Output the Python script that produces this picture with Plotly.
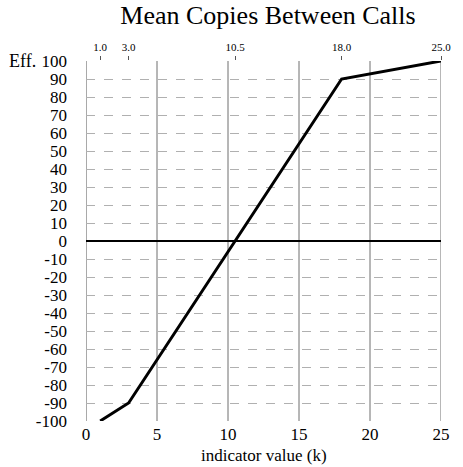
import plotly.graph_objects as go

# Data
indicator_k = [1.0, 3.0, 10.5, 18.0, 25.0]
efficiency = [-100, -90, 0, 90, 100]
top_tick_vals = [1.0, 3.0, 10.5, 18.0, 25.0]
top_tick_text = ["1.0", "3.0", "10.5", "18.0", "25.0"]
x_tick_vals = [0, 5, 10, 15, 20, 25]
y_tick_vals = list(range(-100, 101, 10))

FONT = "Liberation Serif"
W, H = 463, 467
L, R, T, B = 86, 13, 61, 46
plot_w = W - L - R
plot_h = H - T - B

fig = go.Figure()
fig.add_trace(go.Scatter(
    x=indicator_k, y=efficiency, mode="lines",
    line=dict(color="black", width=3), cliponaxis=False,
    hoverinfo="skip", showlegend=False))
# invisible trace to anchor top axis
fig.add_trace(go.Scatter(
    x=indicator_k, y=efficiency, xaxis="x2", mode="lines",
    line=dict(color="rgba(0,0,0,0)"), showlegend=False, hoverinfo="skip"))

# vertical grid lines (solid)
for xv in x_tick_vals[1:]:
    fig.add_shape(type="line", xref="x", yref="y", x0=xv, x1=xv, y0=-100, y1=100,
                  line=dict(color="#6e6e6e", width=1), layer="below")
# left axis line
fig.add_shape(type="line", xref="x", yref="y", x0=0, x1=0, y0=-100, y1=100,
              line=dict(color="#555555", width=1), layer="below")

fig.update_layout(
    width=W, height=H,
    margin=dict(l=L, r=R, t=T, b=B),
    paper_bgcolor="white", plot_bgcolor="white",
    font=dict(family=FONT, color="black", size=15),
    title=dict(text="Mean Copies Between Calls", x=(L + plot_w / 2) / W, xanchor="center",
               y=1 - 15 / H, yanchor="middle", yref="container",
               font=dict(family=FONT, size=26, color="black")),
    xaxis=dict(range=[0, 25], tickvals=x_tick_vals, ticktext=[str(v) for v in x_tick_vals],
               showgrid=False, zeroline=False, showline=False, ticks="",
               tickfont=dict(family=FONT, size=17, color="black"), ticklabelstandoff=1),
    xaxis2=dict(range=[0, 25], overlaying="x", side="top", tickvals=top_tick_vals,
                ticktext=top_tick_text, showgrid=False, zeroline=False, showline=False,
                ticks="outside", ticklen=4, tickcolor="#555555",
                tickfont=dict(family=FONT, size=11, color="black"), ticklabelstandoff=1),
    yaxis=dict(range=[-100, 100], tickvals=y_tick_vals, ticktext=[str(v) for v in y_tick_vals],
               showgrid=True, gridcolor="#b0b0b0", griddash="dash", gridwidth=1,
               zeroline=True, zerolinecolor="black", zerolinewidth=2,
               showline=False, ticks="", tickfont=dict(family=FONT, size=17, color="black"),
               ticklabelstandoff=18),
    annotations=[
        dict(text="Eff.", xref="paper", yref="y", x=-(L - 5) / plot_w, y=100,
             xanchor="left", yanchor="middle", showarrow=False,
             font=dict(family=FONT, size=18, color="black")),
        dict(text="indicator value (k)", xref="paper", yref="paper", x=0.5,
             y=-(455 - (H - B)) / plot_h, xanchor="center", yanchor="middle",
             showarrow=False, font=dict(family=FONT, size=17, color="black")),
    ],
)

fig.write_html("out.html")
